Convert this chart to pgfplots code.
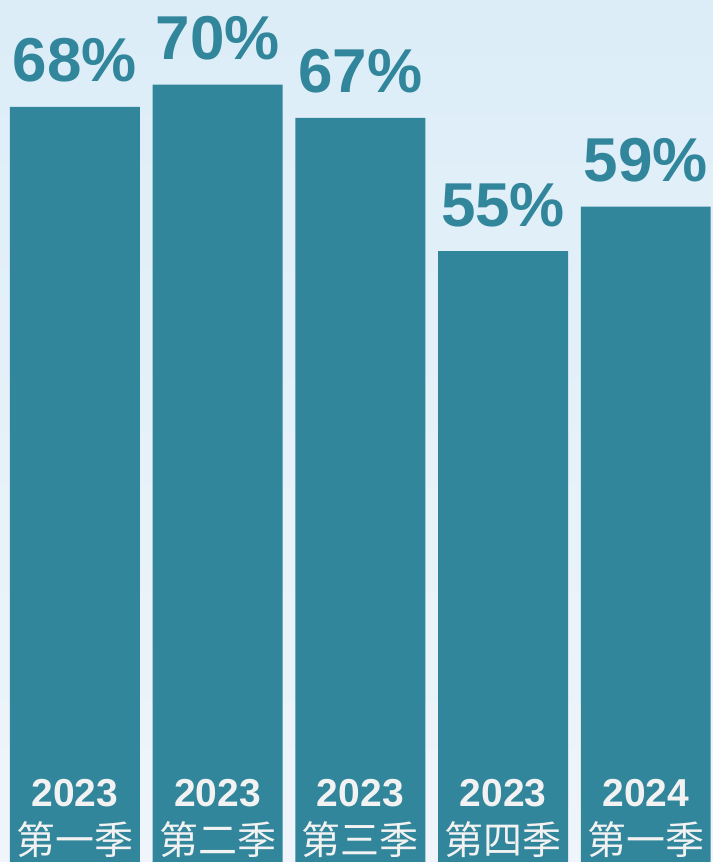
\documentclass[border=0pt]{standalone}
\usepackage{fontspec}
\setmainfont{Liberation Sans}
\newfontfamily\cjk{Noto Sans CJK SC}
\usepackage{pgfplots}
\pgfplotsset{compat=1.18}
\definecolor{barteal}{HTML}{31869B}
\definecolor{lbl}{HTML}{F2F2F2}
\definecolor{bgtop}{HTML}{DCEDF8}
\definecolor{bgbot}{HTML}{EFF5FA}

\begin{document}
\begin{tikzpicture}
\begin{axis}[
  width=356.5pt, height=431pt, scale only axis,
  xmin=-0.525, xmax=4.469, ymin=0, ymax=77.6,
  axis on top,
  axis line style={draw=none},
  major tick length=0pt,
  ytick=\empty,
  xtick=data,
  xticklabels={{\textbf{2023}\\\cjk 第一季},{\textbf{2023}\\\cjk 第二季},{\textbf{2023}\\\cjk 第三季},{\textbf{2023}\\\cjk 第四季},{\textbf{2024}\\\cjk 第一季}},
  xticklabel style={align=center, anchor=south, inner sep=0pt, yshift=2pt,
    text=lbl, font=\fontsize{19.5}{24}\selectfont},
  axis background/.style={top color=bgtop, bottom color=bgbot},
  ybar, bar width=65pt, bar shift=0pt,
  /pgf/number format/assume math mode=true,
  nodes near coords={\pgfmathprintnumber{\pgfplotspointmeta}\%},
  every node near coord/.append style={anchor=base, inner sep=0pt, yshift=12.5pt,
    text=barteal, font=\fontsize{31}{36}\selectfont\bfseries},
]
\addplot[fill=barteal, draw=none] coordinates {(0,68) (1,70) (2,67) (3,55) (4,59)};
\end{axis}
\end{tikzpicture}
\end{document}
